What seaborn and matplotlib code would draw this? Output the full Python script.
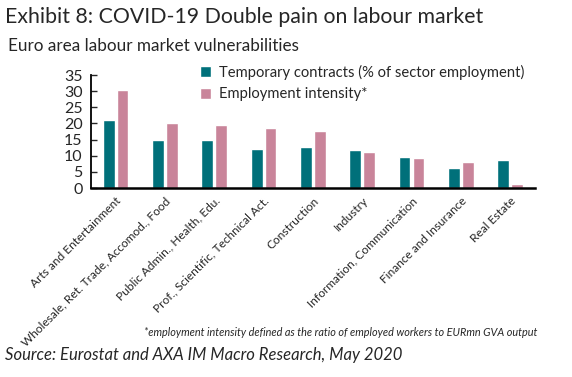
import matplotlib
matplotlib.use("Agg")
import matplotlib.pyplot as plt
import seaborn as sns
import pandas as pd

sectors = ["Arts and Entertainment", "Wholesale, Ret. Trade, Accomod., Food",
           "Public Admin., Health, Edu.", "Prof., Scientific, Technical Act.",
           "Construction", "Industry", "Information, Communication",
           "Finance and Insurance", "Real Estate"]
temporary = [21.2, 14.8, 15.0, 12.2, 12.8, 11.8, 9.6, 6.2, 8.7]
intensity = [30.5, 20.0, 19.5, 18.5, 17.8, 11.3, 9.3, 8.0, 1.3]
series = ["Temporary contracts (% of sector employment)", "Employment intensity*"]

df = pd.DataFrame({
    "sector": sectors * 2,
    "value": temporary + intensity,
    "series": [series[0]] * len(sectors) + [series[1]] * len(sectors),
})

sns.set_style("white")
plt.rcParams["font.family"] = ["Lato", "DejaVu Sans"]

fig = plt.figure(figsize=(5.72, 3.77), dpi=100)
ax = fig.add_axes([0.159, 0.501, 0.776, 0.30])

sns.barplot(data=df, x="sector", y="value", hue="series", ax=ax,
            palette=["#00707A", "#C9849A"], width=0.56, gap=0.15,
            saturation=1, errorbar=None)

ax.set_ylim(0, 35)
ax.set_yticks(range(0, 36, 5))
ax.set_xlim(-0.5, 8.5)
ax.set_xlabel("")
ax.set_ylabel("")
for s in ["top", "right"]:
    ax.spines[s].set_visible(False)
ax.spines["left"].set_color("black")
ax.spines["bottom"].set_color("black")
ax.spines["left"].set_linewidth(1.3)
ax.spines["bottom"].set_linewidth(1.8)
ax.tick_params(axis="y", direction="in", length=4, width=1, left=True,
               labelsize=11.5, pad=6)
ax.tick_params(axis="x", length=0, labelsize=8.6, pad=5)
plt.setp(ax.get_xticklabels(), rotation=45, ha="right", rotation_mode="anchor")

ax.legend(loc="upper left", bbox_to_anchor=(0.35, 0.828),
          bbox_transform=fig.transFigure, frameon=False, fontsize=10.6,
          handlelength=0.75, handleheight=0.75, handletextpad=0.5,
          labelspacing=0.5, borderaxespad=0, borderpad=0)

fig.text(0.008, 0.955, "Exhibit 8: COVID-19 Double pain on labour market",
         fontsize=15.3, va="center")
fig.text(0.014, 0.877, "Euro area labour market vulnerabilities",
         fontsize=12.3, va="center")
fig.text(0.94, 0.117,
         "*employment intensity defined as the ratio of employed workers to EURmn GVA output",
         fontsize=7.8, style="italic", ha="right", va="center")
fig.text(0.008, 0.058, "Source: Eurostat and AXA IM Macro Research, May 2020",
         fontsize=12, style="italic", va="center")

fig.savefig("out.png", dpi=100)
